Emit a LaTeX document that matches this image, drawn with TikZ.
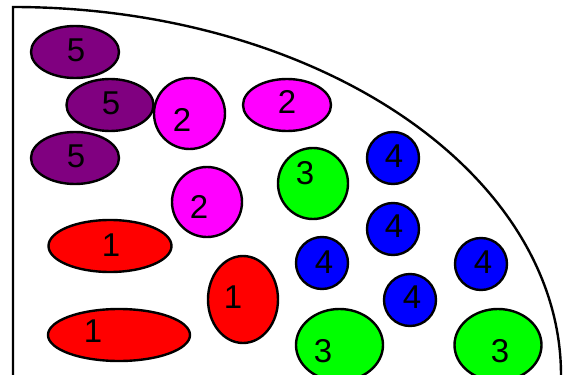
\documentclass[tikz,border=0pt]{standalone}
\usepackage{fontspec}
\setmainfont{Liberation Sans}
\usetikzlibrary{shapes.geometric}
\definecolor{cpurple}{HTML}{800080}
\definecolor{cmagenta}{HTML}{FF00FF}
\definecolor{cgreen}{HTML}{00FF00}
\definecolor{cblue}{HTML}{0000FF}
\definecolor{cred}{HTML}{FF0000}
\tikzset{
  blob/.style={ellipse, draw=black, line width=2.4pt, inner sep=0pt, outer sep=0pt},
  num/.style={font=\fontsize{33}{33}\selectfont, inner sep=0pt, text=black},
}
\begin{document}
\begin{tikzpicture}[x=1pt,y=-1pt]
\useasboundingbox (0,0) rectangle (566,375);
\clip (0,0) rectangle (566,375);
% boundary
\coordinate (bl) at (13,380);
\draw[line width=2.4pt] (bl) -- (13,7) arc[start angle=-90, end angle=3, x radius=548, y radius=368];
% purple
\node[blob, fill=cpurple, minimum width=88pt, minimum height=52pt] (p1) at (75,52) {};
\node[blob, fill=cpurple, minimum width=87pt, minimum height=52pt] (p2) at (110,105) {};
\node[blob, fill=cpurple, minimum width=88pt, minimum height=52pt] (p3) at (75,158) {};
\node[num] (lp1) at (76,50) {5};
\node[num] (lp2) at (111,103) {5};
\node[num] (lp3) at (76,156) {5};
% magenta
\node[blob, fill=cmagenta, minimum width=71pt, minimum height=71pt] (m1) at (189.5,113.5) {};
\node[blob, fill=cmagenta, minimum width=88pt, minimum height=52pt] (m2) at (287,105) {};
\node[blob, fill=cmagenta, minimum width=70pt, minimum height=70pt] (m3) at (207,202) {};
\node[num] (lm1) at (182,120) {2};
\node[num] (lm2) at (287,102) {2};
\node[num] (lm3) at (199,207) {2};
% green
\node[blob, fill=cgreen, minimum width=70pt, minimum height=71pt] (g1) at (313,183.5) {};
\node[blob, fill=cgreen, minimum width=87pt, minimum height=72pt] (g2) at (339.5,345) {};
\node[blob, fill=cgreen, minimum width=87pt, minimum height=72pt] (g3) at (498,345) {};
\node[num] (lg1) at (305,173) {3};
\node[num] (lg2) at (323,351) {3};
\node[num] (lg3) at (500,351) {3};
% blue
\node[blob, fill=cblue, minimum width=52pt, minimum height=52pt] (b1) at (393,158) {};
\node[blob, fill=cblue, minimum width=52pt, minimum height=52pt] (b2) at (393,229) {};
\node[blob, fill=cblue, minimum width=52pt, minimum height=52pt] (b3) at (322,263) {};
\node[blob, fill=cblue, minimum width=52pt, minimum height=52pt] (b4) at (410,300) {};
\node[blob, fill=cblue, minimum width=52pt, minimum height=52pt] (b5) at (481,264) {};
\node[num] (lb1) at (394,156) {4};
\node[num] (lb2) at (394,226) {4};
\node[num] (lb3) at (324,262) {4};
\node[num] (lb4) at (412,297) {4};
\node[num] (lb5) at (483,262) {4};
% red
\node[blob, fill=cred, minimum width=123pt, minimum height=52pt] (r1) at (110,246) {};
\node[blob, fill=cred, minimum width=142pt, minimum height=52pt] (r2) at (119,335) {};
\node[blob, fill=cred, minimum width=70pt, minimum height=87pt] (r3) at (243,299.5) {};
\node[num] (lr1) at (111,245) {1};
\node[num] (lr2) at (93,331) {1};
\node[num] (lr3) at (233,297) {1};
\end{tikzpicture}
\end{document}
